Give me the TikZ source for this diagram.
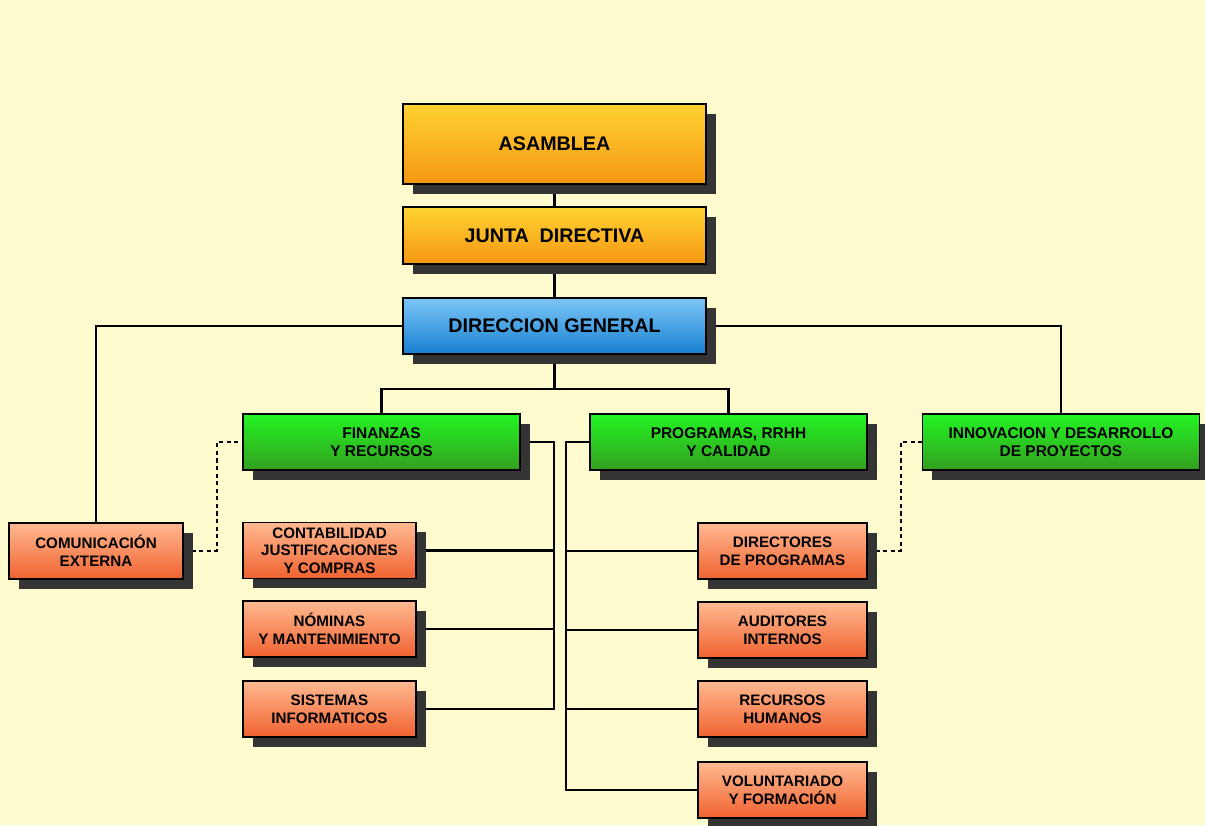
\documentclass[tikz,border=0pt]{standalone}
\usepackage{fontspec}
\setmainfont{Liberation Sans}
\usepackage{tikz}
\usetikzlibrary{calc}
\usetikzlibrary{positioning}
\usetikzlibrary{shadows}
\usetikzlibrary{backgrounds}
\definecolor{fondo}{RGB}{254,251,206}
\definecolor{sombra}{RGB}{52,52,52}
\definecolor{naranjaA}{RGB}{255,210,50}
\definecolor{naranjaB}{RGB}{245,152,18}
\definecolor{azulA}{RGB}{125,198,245}
\definecolor{azulB}{RGB}{22,128,210}
\definecolor{verdeA}{RGB}{35,245,35}
\definecolor{verdeB}{RGB}{52,158,32}
\definecolor{salmonA}{RGB}{255,185,145}
\definecolor{salmonB}{RGB}{240,98,48}
\tikzset{
  caja/.style = {draw=black, line width=1.2pt, align=center, inner sep=0pt,
    drop shadow={shadow xshift=0.24cm, shadow yshift=-0.24cm, fill=sombra, opacity=1}},
  jefe/.style = {caja, minimum width=7.575cm, font=\bfseries\fontsize{14}{16}\selectfont},
  naranja/.style = {jefe, top color=naranjaA, bottom color=naranjaB},
  azul/.style = {jefe, minimum height=1.4cm, top color=azulA, bottom color=azulB},
  area/.style = {caja, minimum width=6.925cm, minimum height=1.4cm,
    top color=verdeA, bottom color=verdeB, font=\bfseries\fontsize{11}{12.8}\selectfont},% departamentos
  puesto/.style = {caja, minimum height=1.4cm, top color=salmonA, bottom color=salmonB,
    font=\bfseries\fontsize{10.8}{12.6}\selectfont},
  linea/.style = {line width=1.7pt},
  punteado/.style = {linea, dash pattern=on 3pt off 2.4pt},
}

\begin{document}
\begin{tikzpicture}
\useasboundingbox (0,0) rectangle (30.125,20.625);
% cabecera
\node [naranja, minimum height=2cm] (asam) at (13.8625,17.025) {ASAMBLEA};
\node [naranja, minimum height=1.425cm] (junta) at (13.8625,14.7375) {JUNTA\ \ DIRECTIVA};
\node [azul] (dg) at (13.8625,12.475) {DIRECCION GENERAL};
% areas
\node [area] (fin) at (9.5375,9.575) {FINANZAS\\Y RECURSOS};
\node [area] (prog) at (18.2125,9.575) {PROGRAMAS, RRHH\\Y CALIDAD};
\node [area] (innov) at (26.525,9.575) {INNOVACION Y DESARROLLO\\DE PROYECTOS};
\node [puesto, minimum width=4.35cm] (com) at (2.4,6.85) {COMUNICACIÓN\\EXTERNA};
% finanzas
\node [puesto, minimum width=4.325cm] (cont) at (8.2375,6.8625) {CONTABILIDAD\\JUSTIFICACIONES\\Y COMPRAS};
\node [puesto, minimum width=4.325cm] (nom) at (8.2375,4.9) {NÓMINAS\\Y MANTENIMIENTO};
\node [puesto, minimum width=4.325cm] (sis) at (8.2375,2.9) {SISTEMAS\\INFORMATICOS};
% programas
\node [puesto, minimum width=4.225cm] (dir) at (19.5625,6.85) {DIRECTORES\\DE PROGRAMAS};
\node [puesto, minimum width=4.225cm] (aud) at (19.5625,4.875) {AUDITORES\\INTERNOS};
\node [puesto, minimum width=4.225cm] (rh) at (19.5625,2.9) {RECURSOS\\HUMANOS};
\node [puesto, minimum width=4.225cm] (vol) at (19.5625,0.875) {VOLUNTARIADO\\Y FORMACIÓN};

\begin{scope}[on background layer]
\fill [fondo] (0,0) rectangle (30.125,20.625);
\coordinate (dgbus) at ($(dg.south)+(0,-0.85)$);
\coordinate (finbus) at ($(fin.east)+(0.825,0)$);
\coordinate (progbus) at ($(prog.west)+(-0.575,0)$);
\draw [linea] (asam) -- (junta);
\draw [linea] (junta) -- (dg);
\draw [linea] (dg) -- (dgbus) -| (fin);
\draw [linea] (dgbus) -| (prog);
\draw [linea] (dg.west) -| (com.north);
\draw [linea] (dg.east) -| (innov.north);
\draw [linea] (fin.east) -- (finbus) |- (sis.east);
\draw [linea] (cont.east) -- (cont.east -| finbus);
\draw [linea] (nom.east) -- (nom.east -| finbus);
\draw [linea] (prog.west) -- (progbus) |- (vol.west);
\draw [linea] (dir.west) -- (dir.west -| progbus);
\draw [linea] (aud.west) -- (aud.west -| progbus);
\draw [linea] (rh.west) -- (rh.west -| progbus);
\draw [punteado] (com.east) -- ++(0.825,0) |- (fin.west);
\draw [punteado] (dir.east) -- ++(0.825,0) |- (innov.west);
\end{scope}
\end{tikzpicture}
\end{document}
